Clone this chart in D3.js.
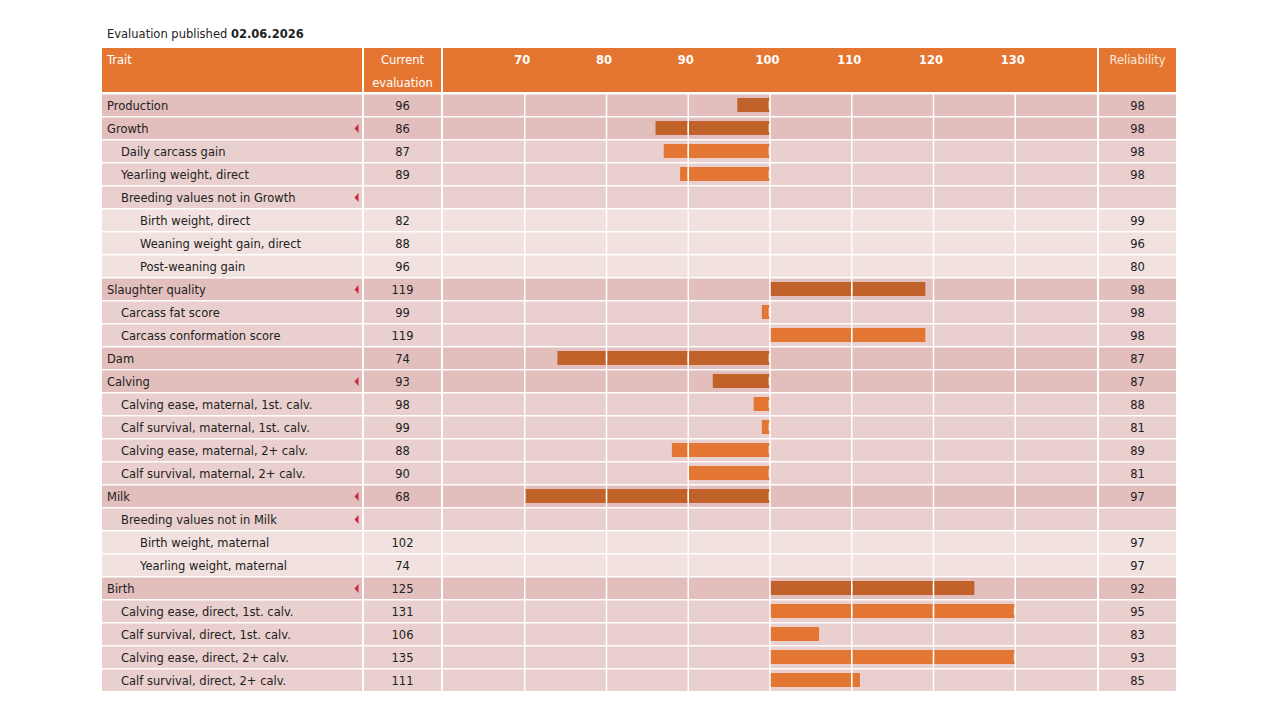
<!DOCTYPE html>
<html><head><meta charset="utf-8">
<script src="https://cdn.jsdelivr.net/npm/d3@7"></script>
<style>
html,body{margin:0;padding:0;background:#fff;}
svg{display:block;font-family:"DejaVu Sans",Verdana,sans-serif;}
</style></head>
<body>
<svg id="chart" width="1280" height="720"></svg>
<script>
const publishedDate = "02.06.2026";
const traits = ["Production","Growth","Daily carcass gain","Yearling weight, direct","Breeding values not in Growth",
 "Birth weight, direct","Weaning weight gain, direct","Post-weaning gain","Slaughter quality","Carcass fat score",
 "Carcass conformation score","Dam","Calving","Calving ease, maternal, 1st. calv.","Calf survival, maternal, 1st. calv.",
 "Calving ease, maternal, 2+ calv.","Calf survival, maternal, 2+ calv.","Milk","Breeding values not in Milk",
 "Birth weight, maternal","Yearling weight, maternal","Birth","Calving ease, direct, 1st. calv.",
 "Calf survival, direct, 1st. calv.","Calving ease, direct, 2+ calv.","Calf survival, direct, 2+ calv."];
const levels = [0,0,1,1,1,2,2,2,0,1,1,0,0,1,1,1,1,0,1,2,2,0,1,1,1,1];
const evaluations = [96,86,87,89,null,82,88,96,119,99,119,74,93,98,99,88,90,68,null,102,74,125,131,106,135,111];
const reliability = [98,98,98,98,null,99,96,80,98,98,98,87,87,88,81,89,81,97,null,97,97,92,95,83,93,85];
const hasArrow = [false,true,false,false,true,false,false,false,true,false,false,false,true,false,false,false,false,true,true,false,false,true,false,false,false,false];
const tickValues = [70,80,90,100,110,120,130];

const svg = d3.select("#chart");
const headerColor = "#e57632";
const rowColors = ["#e2bebc","#e9cfcd","#f1e1df"];
const barColors = ["#c0622a","#e47633"];
const textColor = "#222";
const fs = 11.5;

const cols = {trait:[102,362], evalc:[364,441], chart:[443,1097], rel:[1099,1176]};
const x = d3.scaleLinear().domain([60,140]).range(cols.chart);
const y = d3.scaleBand().domain(d3.range(traits.length)).range([93.5,691.5]);
const bw = y.bandwidth();

// title
const title = svg.append("text").attr("x",107).attr("y",38).attr("font-size",fs).attr("fill",textColor);
title.append("tspan").text("Evaluation published ");
title.append("tspan").attr("font-weight","bold").text(publishedDate);

// header
const hy0 = 48, hy1 = 92;
Object.values(cols).forEach(c=>{
  svg.append("rect").attr("x",c[0]).attr("y",hy0).attr("width",c[1]-c[0]).attr("height",hy1-hy0).attr("fill",headerColor);
});
const hdr = svg.append("g").attr("fill","#fff").attr("font-size",fs);
hdr.append("text").attr("x",107).attr("y",64).text("Trait");
hdr.append("text").attr("x",(cols.evalc[0]+cols.evalc[1])/2).attr("y",64).attr("text-anchor","middle").text("Current");
hdr.append("text").attr("x",(cols.evalc[0]+cols.evalc[1])/2).attr("y",86.5).attr("text-anchor","middle").text("evaluation");
hdr.append("text").attr("x",(cols.rel[0]+cols.rel[1])/2).attr("y",64).attr("text-anchor","middle").attr("fill","#fbe9dc").text("Reliability");

const axis = d3.axisTop(x).tickValues(tickValues).tickSize(0).tickPadding(0);
const axG = svg.append("g").attr("transform","translate(-3,60)").call(axis);
axG.select(".domain").remove();
axG.selectAll("text").attr("fill","#fff").attr("font-weight","bold").attr("font-size",fs)
  .attr("font-family","'DejaVu Sans',Verdana,sans-serif").attr("dy","0.35em").attr("y",0);

// rows
const rows = svg.append("g").selectAll("g").data(traits).join("g")
  .attr("transform",(d,i)=>`translate(0,${y(i)})`);
Object.values(cols).forEach(c=>{
  rows.append("rect").attr("x",c[0]).attr("y",1).attr("width",c[1]-c[0]).attr("height",bw-1.5)
    .attr("fill",(d,i)=>rowColors[levels[i]]);
});
// gridlines
svg.append("g").selectAll("line").data(tickValues).join("line")
  .attr("x1",d=>x(d)).attr("x2",d=>x(d)).attr("y1",y(0)).attr("y2",y(traits.length-1)+bw)
  .attr("stroke","#fff").attr("stroke-width",1.5);

rows.append("text").attr("x",(d,i)=>107+[0,14,33][levels[i]]).attr("y",bw/2+1).attr("dy","0.35em")
  .attr("font-size",fs).attr("fill",textColor).text(d=>d);
rows.append("text").attr("x",(cols.evalc[0]+cols.evalc[1])/2).attr("y",bw/2+1).attr("dy","0.35em")
  .attr("text-anchor","middle").attr("font-size",fs).attr("fill",textColor).text((d,i)=>evaluations[i]==null?"":evaluations[i]);
rows.append("text").attr("x",(cols.rel[0]+cols.rel[1])/2).attr("y",bw/2+1).attr("dy","0.35em")
  .attr("text-anchor","middle").attr("font-size",fs).attr("fill",textColor).text((d,i)=>reliability[i]==null?"":reliability[i]);
rows.filter((d,i)=>hasArrow[i]).append("path")
  .attr("d",`M354.5,${bw/2+0.5} L358.5,${bw/2-4} L358.5,${bw/2+5} Z`).attr("fill","#c8283a");

// bars
const clampV = v=>Math.max(70,Math.min(130,v));
const barRows = rows.filter((d,i)=>evaluations[i]!=null && levels[i]<2);
barRows.append("rect")
  .attr("x",(d)=>{const k=traits.indexOf(d);return x(Math.min(100,clampV(evaluations[k])));})
  .attr("width",(d)=>{const k=traits.indexOf(d);return Math.abs(x(clampV(evaluations[k]))-x(100));})
  .attr("y",4.5).attr("height",bw-9)
  .attr("fill",d=>barColors[levels[traits.indexOf(d)]]);
barRows.each(function(d){
  const k=traits.indexOf(d);
  const v=clampV(evaluations[k]);
  const lo=Math.min(v,100), hi=Math.max(v,100);
  const inside=tickValues.filter(t=>t>=lo && t<=hi && !(t===100 && v>100));
  d3.select(this).selectAll("line.in").data(inside).join("line").attr("class","in")
    .attr("x1",t=>x(t)-(t===hi?0.8:0)).attr("x2",t=>x(t)-(t===hi?0.8:0))
    .attr("y1",7.5).attr("y2",bw-7.5)
    .attr("stroke","#f7d7bd").attr("stroke-width",1.3);
});
</script>
</body></html>
